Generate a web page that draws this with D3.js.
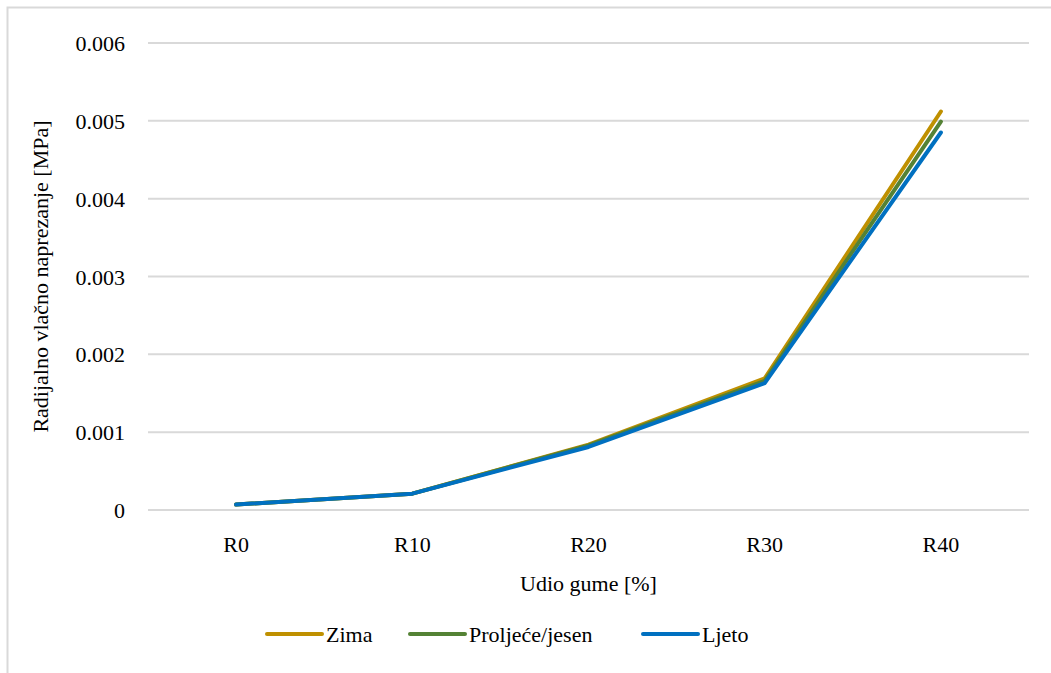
<!DOCTYPE html>
<html>
<head>
<meta charset="utf-8">
<script src="https://cdn.jsdelivr.net/npm/d3@7"></script>
</head>
<body style="margin:0">
<svg id="chart" width="1051" height="673"></svg>
<script>
var W = 1051, H = 673

var categories = ["R0", "R10", "R20", "R30", "R40"]
var seriesNames = ["Zima", "Proljeće/jesen", "Ljeto"]
var zima = [0.00007, 0.00021, 0.00084, 0.00169, 0.00512]
var proljece = [0.00007, 0.00021, 0.00083, 0.00166, 0.00499]
var ljeto = [0.00007, 0.00021, 0.00081, 0.00163, 0.00485]
var yTicks = [0, 0.001, 0.002, 0.003, 0.004, 0.005, 0.006]
var colors = ["#BF9000", "#548235", "#0070C0"]

var series = [zima, proljece, ljeto]

var margin = {left: 148, right: 22, top: 43, bottom: 163}

var svg = d3.select('#chart')

// outer chart border
svg.append('rect')
  .attr('x', 7.5).attr('y', 7.5)
  .attr('width', 1060).attr('height', 680)
  .attr('fill', 'none')
  .attr('stroke', '#d9d9d9')
  .attr('stroke-width', 2)

var xScale = d3.scaleBand()
  .domain(categories)
  .range([margin.left, W - margin.right])

var yScale = d3.scaleLinear()
  .domain([0, 0.006])
  .range([H - margin.bottom, margin.top])

function addLabel(parent, txt) {
  return parent.append('text')
    .attr('font-family', 'Liberation Serif')
    .attr('font-size', 22)
    .style('font-family', 'Liberation Serif', 'important')
    .style('font-size', '22px', 'important')
    .attr('fill', '#000')
    .text(txt)
}

// gridlines
svg.append('g')
  .selectAll('line')
  .data(yTicks)
  .enter().append('line')
  .attr('x1', margin.left)
  .attr('x2', W - margin.right)
  .attr('y1', d => yScale(d))
  .attr('y2', d => yScale(d))
  .attr('stroke', '#d9d9d9')
  .attr('stroke-width', 2)

// y tick labels
yTicks.forEach(function(d) {
  addLabel(svg, d === 0 ? "0" : d3.format('.3f')(d))
    .attr('x', 125)
    .attr('y', yScale(d) + 8)
    .attr('text-anchor', 'end')
})

// x tick labels
categories.forEach(function(c) {
  addLabel(svg, c)
    .attr('x', xScale(c) + xScale.bandwidth() / 2)
    .attr('y', 552)
    .attr('text-anchor', 'middle')
})

// axis titles
addLabel(svg, 'Udio gume [%]')
  .attr('x', (margin.left + W - margin.right) / 2)
  .attr('y', 591)
  .attr('text-anchor', 'middle')

addLabel(svg, 'Radijalno vlačno naprezanje [MPa]')
  .attr('transform', 'translate(48,' + ((margin.top + H - margin.bottom) / 2) + ') rotate(-90)')
  .attr('text-anchor', 'middle')

// lines
var line = d3.line()
  .x((d, i) => xScale(categories[i]) + xScale.bandwidth() / 2)
  .y(d => yScale(d))

svg.append('g')
  .selectAll('path')
  .data(series)
  .enter().append('path')
  .attr('d', d => line(d))
  .attr('fill', 'none')
  .attr('stroke', (d, i) => colors[i])
  .attr('stroke-width', 4)
  .attr('stroke-linejoin', 'round')
  .attr('stroke-linecap', 'round')

// legend
var legendX = [267, 410, 643]
seriesNames.forEach(function(name, i) {
  var g = svg.append('g')
    .attr('transform', 'translate(' + legendX[i] + ',634)')
  g.append('line')
    .attr('x1', 0).attr('x2', 55)
    .attr('stroke', colors[i])
    .attr('stroke-width', 4)
    .attr('stroke-linecap', 'round')
  addLabel(g, name)
    .attr('x', 59)
    .attr('y', 8)
})
</script>
</body>
</html>
